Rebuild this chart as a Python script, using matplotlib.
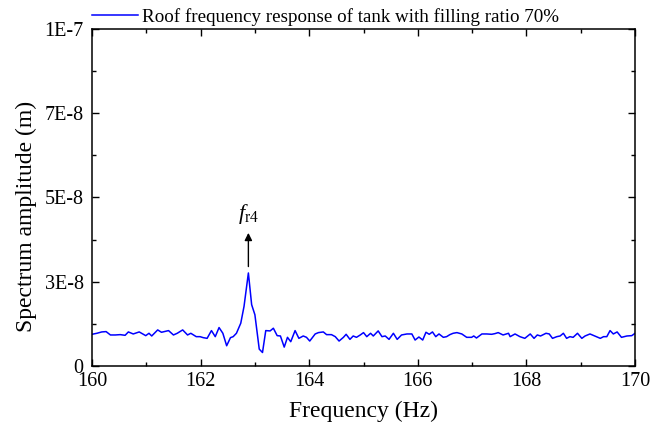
import numpy as np
import matplotlib
matplotlib.use("Agg")
import matplotlib.pyplot as plt
from matplotlib.ticker import FixedLocator, MultipleLocator

plt.rcParams['font.family'] = ['Liberation Serif', 'DejaVu Serif']
plt.rcParams['mathtext.fontset'] = 'custom'
plt.rcParams['mathtext.rm'] = 'Liberation Serif'
plt.rcParams['mathtext.it'] = 'Liberation Serif:italic'

# frequency (Hz) and roof amplitude (x1e-9 m)
freq = [160.00, 160.09, 160.18, 160.26, 160.34, 160.43, 160.52, 160.61, 160.67, 160.76,
        160.87, 160.99, 161.05, 161.10, 161.21, 161.28, 161.41, 161.50, 161.57, 161.67,
        161.76, 161.82, 161.92, 161.99, 162.05, 162.12, 162.20, 162.27, 162.34, 162.41,
        162.48, 162.55, 162.60, 162.66, 162.74, 162.80, 162.88, 162.94, 163.00, 163.08,
        163.14, 163.20, 163.28, 163.34, 163.41, 163.47, 163.54, 163.60, 163.66, 163.74,
        163.81, 163.89, 163.95, 164.01, 164.11, 164.17, 164.26, 164.32, 164.41, 164.48,
        164.55, 164.63, 164.68, 164.75, 164.81, 164.87, 164.94, 165.00, 165.06, 165.13,
        165.18, 165.27, 165.34, 165.40, 165.47, 165.55, 165.62, 165.70, 165.80, 165.89,
        165.95, 166.02, 166.09, 166.15, 166.21, 166.27, 166.33, 166.39, 166.47, 166.53,
        166.59, 166.65, 166.72, 166.81, 166.90, 166.99, 167.03, 167.08, 167.18, 167.27,
        167.36, 167.42, 167.48, 167.57, 167.67, 167.70, 167.79, 167.88, 167.97, 168.07,
        168.14, 168.20, 168.26, 168.36, 168.42, 168.48, 168.56, 168.62, 168.68, 168.74,
        168.80, 168.86, 168.94, 169.02, 169.08, 169.17, 169.26, 169.36, 169.42, 169.48,
        169.54, 169.60, 169.67, 169.75, 169.85, 169.94, 170.00]
amp = [9.4, 9.7, 10.1, 10.2, 9.2, 9.2, 9.3, 9.1, 10.1, 9.5,
       10.1, 9.0, 9.7, 8.9, 10.7, 10.0, 10.5, 9.2, 9.7, 10.7,
       9.2, 9.7, 8.7, 8.7, 8.4, 8.2, 10.5, 8.7, 11.4, 9.7,
       6.0, 8.4, 8.7, 9.7, 12.7, 17.7, 27.6, 18.2, 15.2, 5.0,
       4.0, 10.5, 10.4, 11.2, 9.0, 8.9, 5.6, 8.5, 7.2, 10.5,
       8.2, 8.9, 8.5, 7.4, 9.5, 9.9, 10.1, 9.3, 9.3, 8.7,
       7.4, 8.5, 9.4, 7.9, 8.9, 8.5, 9.2, 9.9, 8.7, 9.7,
       8.9, 10.4, 8.7, 8.9, 7.9, 9.7, 7.9, 9.2, 9.5, 9.5,
       7.7, 8.6, 7.7, 10.0, 9.4, 10.1, 8.7, 9.5, 8.5, 8.7,
       9.3, 9.7, 9.9, 9.5, 8.5, 8.5, 8.9, 8.3, 9.5, 9.5,
       9.4, 9.6, 9.9, 9.2, 9.7, 8.7, 9.5, 8.7, 8.2, 9.5,
       8.2, 9.2, 8.9, 9.7, 9.5, 8.2, 8.7, 8.9, 9.7, 8.2,
       8.7, 8.5, 9.7, 8.2, 8.9, 9.5, 8.9, 8.2, 8.7, 8.7,
       10.5, 9.5, 10.1, 8.5, 8.9, 9.0, 9.7]
amp = np.array(amp) * 1e-9

y_ticks = [0, 2.5e-8, 5e-8, 7.5e-8, 1e-7]
y_labels = ['0', '3E-8', '5E-8', '7E-8', '1E-7']
x_ticks = [160, 162, 164, 166, 168, 170]
peak_f = 162.88

fig = plt.figure(figsize=(6.5, 4.36), dpi=100)
ax = fig.add_axes([0.1415, 0.1606, 0.8355, 0.773])

ax.plot(freq, amp, color='#0000ff', lw=1.1,
        label='Roof frequency response of tank with filling ratio 70%')

# arrow + label for the 4th roof mode
ax.annotate('', xy=(peak_f, 3.95e-8), xytext=(peak_f, 2.95e-8),
            arrowprops=dict(arrowstyle='-|>', color='black', lw=1.0,
                            mutation_scale=11, shrinkA=0, shrinkB=0))
ax.text(peak_f, 4.5e-8, r'$f_{\mathrm{r4}}$', ha='center', va='center', fontsize=16)

ax.set_xlim(160, 170)
ax.set_ylim(0, 1e-7)
ax.xaxis.set_major_locator(FixedLocator(x_ticks))
ax.xaxis.set_minor_locator(MultipleLocator(1))
ax.yaxis.set_major_locator(FixedLocator(y_ticks))
ax.set_yticklabels(y_labels)
ax.yaxis.set_minor_locator(MultipleLocator(1.25e-8))

ax.tick_params(which='both', direction='in', top=True, right=True, width=1.0,
               labelsize=14.5)
ax.tick_params(which='major', length=5)
ax.tick_params(which='minor', length=3)
ax.tick_params(axis='x', pad=4)
ax.tick_params(axis='y', pad=6)
for s in ax.spines.values():
    s.set_linewidth(1.1)

ax.set_xlabel('Frequency (Hz)', fontsize=17)
ax.set_ylabel('Spectrum amplitude (m)', fontsize=17)
ax.xaxis.set_label_coords(0.5, -0.103)
ax.yaxis.set_label_coords(-0.101, 0.445)

ax.legend(loc='lower left', bbox_to_anchor=(0, 1.01), frameon=False,
          borderaxespad=0, borderpad=0, handlelength=2.4, handletextpad=0.25,
          fontsize=13.7)

fig.savefig('out.png', dpi=100)
